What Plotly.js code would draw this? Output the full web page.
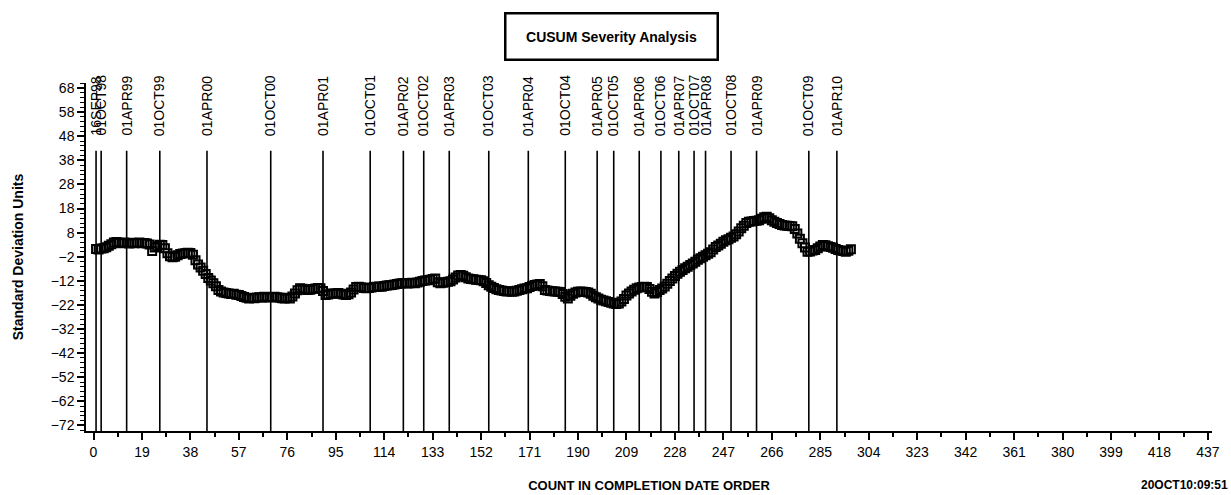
<!DOCTYPE html>
<html>
<head>
<meta charset="utf-8">
<script src="https://cdn.plot.ly/plotly-3.0.1.min.js"></script>
<style>html,body{margin:0;padding:0;background:#fff;}#chart{width:1231px;height:495px;}</style>
</head>
<body>
<div id="chart"></div>
<script>
// CUSUM values, one per completion count (1..297)
const cusumValues = [
  1.2, 1.0, 1.4, 1.5, 1.9, 2.6, 3.2, 3.9, 4.1, 3.8,
  3.6, 3.9, 3.7, 3.5, 3.8, 3.6, 3.7, 3.9, 3.6, 3.7,
  3.5, 3.1, 0.4, 1.8, 2.4, 3.0, 2.9, 1.5, -0.5, -1.8,
  -2.2, -2.0, -1.4, -0.9, -0.6, -0.5, -0.3, -0.4, -1.2, -3.5,
  -5.2, -6.5, -7.8, -9.2, -10.8, -11.9, -13.0, -14.2, -15.8, -16.4,
  -16.8, -17.0, -17.2, -17.5, -17.4, -17.8, -17.9, -18.3, -18.7, -19.0,
  -19.3, -19.1, -19.2, -18.9, -18.8, -18.9, -18.6, -18.8, -18.9, -18.7,
  -18.6, -18.8, -19.0, -19.2, -19.3, -19.0, -19.3, -18.5, -17.2, -15.9,
  -15.1, -15.3, -15.6, -15.8, -15.7, -15.4, -15.2, -15.0, -15.1, -16.2,
  -17.9, -17.7, -17.4, -17.2, -17.2, -17.0, -17.4, -17.7, -17.9, -17.6,
  -16.8, -15.6, -14.5, -14.4, -14.7, -15.0, -15.1, -15.0, -14.8, -14.6,
  -14.4, -14.3, -14.4, -14.1, -13.9, -13.8, -13.7, -13.5, -13.3, -13.1,
  -13.0, -12.9, -13.1, -13.0, -12.8, -13.0, -12.7, -12.4, -12.1, -11.9,
  -11.7, -11.5, -11.2, -11.0, -12.6, -13.0, -12.8, -12.6, -12.4, -12.2,
  -11.4, -10.6, -9.8, -9.6, -9.9, -10.5, -11.0, -11.2, -11.3, -11.5,
  -11.6, -11.7, -12.2, -12.9, -13.8, -14.4, -15.0, -15.5, -15.8, -16.0,
  -16.2, -16.4, -16.3, -16.5, -16.4, -16.1, -15.8, -15.5, -15.2, -15.1,
  -14.6, -14.1, -13.7, -13.5, -13.3, -14.2, -15.8, -16.0, -16.2, -16.3,
  -16.4, -16.5, -16.6, -17.5, -18.6, -19.3, -18.2, -17.3, -16.8, -16.5,
  -16.4, -16.5, -16.6, -16.8, -17.4, -18.2, -18.8, -19.3, -19.8, -20.2,
  -20.5, -20.8, -21.1, -21.4, -21.6, -21.4, -20.6, -19.5, -18.1, -17.2,
  -16.4, -15.7, -15.1, -14.8, -14.6, -14.4, -14.5, -15.4, -16.5, -17.2,
  -16.6, -15.8, -15.2, -14.3, -13.2, -12.1, -11.0, -10.0, -9.0, -8.2,
  -7.5, -6.8, -6.1, -5.4, -4.8, -4.1, -3.2, -2.6, -2.0, -1.4,
  -0.8, -0.1, 1.0, 2.0, 2.7, 3.4, 4.2, 4.8, 5.3, 5.9,
  6.4, 7.3, 8.5, 9.8, 10.9, 12.0, 12.5, 12.6, 12.8, 12.9,
  13.2, 13.8, 14.4, 14.6, 14.0, 13.2, 12.5, 12.0, 11.6, 11.2,
  11.0, 10.9, 10.8, 10.7, 9.5, 7.7, 5.5, 3.6, 1.8, 0.1,
  0.2, 0.6, 0.8, 1.5, 2.3, 2.9, 2.8, 2.4, 2.1, 1.7,
  1.2, 0.8, 0.6, 0.4, 0.1, 0.5, 1.1
];
const counts = cusumValues.map((_, i) => i + 1);

// Date reference lines (count position where each date starts)
const refDates  = ["16SEP98","01OCT98","01APR99","01OCT99","01APR00","01OCT00","01APR01","01OCT01",
                   "01APR02","01OCT02","01APR03","01OCT03","01APR04","01OCT04","01APR05","01OCT05",
                   "01APR06","01OCT06","01APR07","01OCT07","01APR08","01OCT08","01APR09","01OCT09","01APR10"];
const refCounts = [1, 3, 13, 26, 44.5, 69.5, 90, 108.5,
                   121.5, 129.5, 139.5, 155, 170.5, 185, 197.5, 204,
                   214, 222.5, 229.5, 235.5, 240, 250, 260, 280.5, 291.5];

const xTickVals = [0,19,38,57,76,95,114,133,152,171,190,209,228,247,266,285,304,323,342,361,380,399,418,437];
const yTickVals = [68,58,48,38,28,18,8,-2,-12,-22,-32,-42,-52,-62,-72];

const titleText = "CUSUM Severity Analysis";
const xTitle = "COUNT IN COMPLETION DATE ORDER";
const yTitle = "Standard Deviation Units";
const stampText = "20OCT10:09:51";

const sans = "Liberation Sans, Arial, sans-serif";

const shapes = refCounts.map(c => ({
  type: 'line', xref: 'x', yref: 'y domain', x0: c, x1: c, y0: 0, y1: 0.805,
  line: {color: '#000', width: 1.6}
}));

const annotations = refDates.map((d, i) => ({
  text: d, x: refCounts[i], xref: 'x', y: 47.3, yref: 'y',
  xanchor: 'center', yanchor: 'bottom', textangle: -90, showarrow: false,
  font: {family: sans, size: 14, color: '#000'}
}));

annotations.push({
  text: '<b>' + titleText + '</b>', xref: 'paper', yref: 'paper', x: 0.4663, y: 1.135,
  xanchor: 'center', yanchor: 'middle', showarrow: false,
  width: 210, height: 44, bordercolor: '#000', borderwidth: 2.5, borderpad: 0, bgcolor: '#fff',
  font: {family: sans, size: 14, color: '#000'}
});
annotations.push({
  text: '<b>' + stampText + '</b>', xref: 'paper', yref: 'paper', x: 1.016, y: -0.155,
  xanchor: 'right', yanchor: 'middle', showarrow: false,
  font: {family: sans, size: 12, color: '#000'}
});

const trace = {
  x: counts, y: cusumValues, type: 'scatter', mode: 'markers',
  marker: {symbol: 'square-open', size: 8, color: '#000', line: {color: '#000', width: 2}},
  hoverinfo: 'x+y'
};

const layout = {
  width: 1231, height: 495,
  margin: {l: 86, r: 19, t: 83, b: 64},
  paper_bgcolor: '#fff', plot_bgcolor: '#fff',
  showlegend: false,
  xaxis: {
    range: [-2.94, 438.6], tickmode: 'array', tickvals: xTickVals,
    ticks: 'outside', ticklen: 7, tickwidth: 1.5, tickcolor: '#000',
    minor: {ticks: 'outside', ticklen: 4, tickwidth: 1.5, tickcolor: '#000', dtick: 9.5, tick0: 0, showgrid: false},
    showline: true, linecolor: '#000', linewidth: 1.5, showgrid: false, zeroline: false,
    tickfont: {family: sans, size: 14, color: '#000'},
    title: {text: '<b>' + xTitle + '</b>', standoff: 22, font: {family: sans, size: 13, color: '#000'}}
  },
  yaxis: {
    range: [-74.3, 70.1], tickmode: 'array', tickvals: yTickVals,
    ticks: 'outside', ticklen: 7, tickwidth: 1.5, tickcolor: '#000',
    minor: {ticks: 'outside', ticklen: 4, tickwidth: 1.2, tickcolor: '#000', dtick: 2, tick0: -72, showgrid: false},
    showline: true, linecolor: '#000', linewidth: 1.5, showgrid: false, zeroline: false,
    tickfont: {family: sans, size: 14, color: '#000'},
    title: {text: '<b>' + yTitle + '</b>', standoff: 24, font: {family: sans, size: 14, color: '#000'}}
  },
  shapes: shapes,
  annotations: annotations
};

Plotly.newPlot('chart', [trace], layout, {displayModeBar: false});
</script>
</body>
</html>
